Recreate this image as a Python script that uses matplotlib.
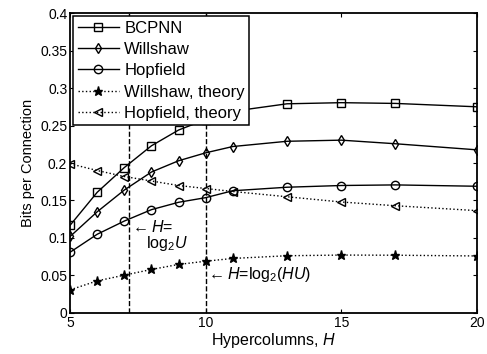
import matplotlib
matplotlib.use('Agg')
import matplotlib.pyplot as plt

plt.rcParams['font.family'] = ['Liberation Sans', 'DejaVu Sans']
plt.rcParams['mathtext.fontset'] = 'custom'
plt.rcParams['mathtext.rm'] = 'Liberation Sans'
plt.rcParams['mathtext.it'] = 'Liberation Sans:italic'

# data
H = [5, 6, 7, 8, 9, 10, 11, 13, 15, 17, 20]
bcpnn = [0.117, 0.161, 0.194, 0.223, 0.244, 0.258, 0.269, 0.279, 0.2805, 0.2795, 0.275]
willshaw = [0.102, 0.135, 0.164, 0.188, 0.203, 0.2136, 0.222, 0.229, 0.2305, 0.2257, 0.2176]
hopfield = [0.081, 0.105, 0.1226, 0.1378, 0.1476, 0.1538, 0.163, 0.1677, 0.170, 0.1708, 0.169]
willshaw_th = [0.0308, 0.0428, 0.0504, 0.058, 0.0647, 0.069, 0.0727, 0.0763, 0.0772, 0.077, 0.076]
hopfield_th = [0.199, 0.190, 0.182, 0.176, 0.170, 0.166, 0.162, 0.155, 0.148, 0.143, 0.1365]
vlines = [7.17, 10]

fig = plt.figure(figsize=(4.87, 3.54), dpi=100)
ax = fig.add_axes([0.144, 0.116, 0.835, 0.847])

ms = 5.5
ax.plot(H, bcpnn, 'k-s', mfc='none', ms=ms, lw=1, label='BCPNN')
ax.plot(H, willshaw, 'k-d', mfc='none', ms=ms, lw=1, label='Willshaw')
ax.plot(H, hopfield, 'k-o', mfc='none', ms=ms + 0.5, lw=1, label='Hopfield')
ax.plot(H, willshaw_th, 'k:*', ms=ms + 1, lw=1, label='Willshaw, theory')
ax.plot(H, hopfield_th, 'k:<', mfc='none', ms=ms, lw=1, label='Hopfield, theory')

for v in vlines:
    ax.axvline(v, color='k', ls='--', lw=1)

ax.text(7.2, 0.114, '$\\leftarrow$$\\mathit{H}$=', fontsize=11.5, va='center', ha='left')
ax.text(7.8, 0.092, 'log$_2$$\\mathit{U}$', fontsize=11.5, va='center', ha='left')
ax.text(10.02, 0.051, '$\\leftarrow$$\\mathit{H}$=log$_2$($\\mathit{HU}$)', fontsize=11.5,
        va='center', ha='left')

ax.set_xlim(5, 20)
ax.set_ylim(0, 0.4)
ax.set_xticks([5, 10, 15, 20])
ax.set_yticks([0, 0.05, 0.1, 0.15, 0.2, 0.25, 0.3, 0.35, 0.4])
ax.set_yticklabels(['0', '0.05', '0.1', '0.15', '0.2', '0.25', '0.3', '0.35', '0.4'])
ax.tick_params(direction='in', top=True, right=True, labelsize=10, length=3, pad=2)
for s in ax.spines.values():
    s.set_linewidth(1.3)
ax.set_xlabel('Hypercolumns, $\\mathit{H}$', fontsize=11.5, labelpad=1)
ax.set_ylabel('Bits per Connection', fontsize=10.5, labelpad=4)

leg = ax.legend(loc='upper left', fontsize=12, frameon=True, fancybox=False,
                edgecolor='k', handlelength=2.5, borderaxespad=0.2,
                labelspacing=0.38, borderpad=0.25, handletextpad=0.3)
leg.get_frame().set_linewidth(1.1)
leg.get_frame().set_alpha(1)

plt.savefig('out.png', dpi=100)
